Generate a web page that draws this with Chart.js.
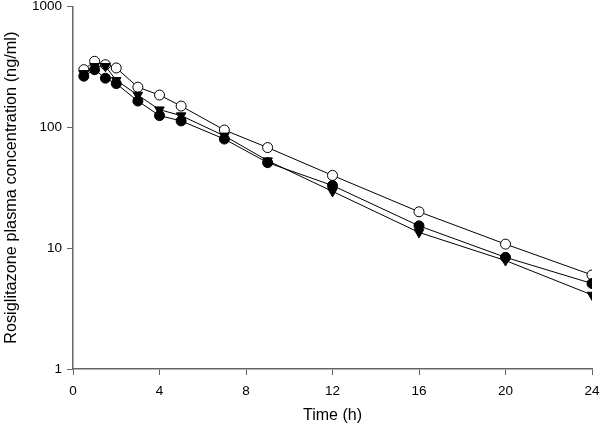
<!DOCTYPE html>
<html><head><meta charset="utf-8">
<script src="https://cdn.jsdelivr.net/npm/chart.js@4/dist/chart.umd.min.js"></script>
<style>html,body{margin:0;padding:0;background:#fff}#wrap{width:600px;height:430px}</style>
</head><body><div id="wrap"><canvas id="c" width="600" height="430"></canvas></div>
<script>
const times = [0.5, 1, 1.5, 2, 3, 4, 5, 7, 9, 12, 16, 20, 24];
const openCircle = [300, 352, 330, 310, 215, 185, 150, 95, 68, 40, 20, 10.8, 6.0];
const filledCircle = [265, 300, 255, 230, 165, 125, 113, 80, 51, 33, 15.3, 8.4, 5.1];
const triangleDown = [280, 320, 320, 245, 185, 140, 125, 85, 53, 29.5, 13.5, 7.9, 4.1];
const xTicks = [0, 4, 8, 12, 16, 20, 24];
const yTicks = [1, 10, 100, 1000];

const toXY = arr => arr.map((v, i) => ({x: times[i], y: v}));
const axisColor = '#666';
const fam = 'Liberation Sans, Arial, sans-serif';
const font = {family: fam, size: 13.5};

new Chart(document.getElementById('c'), {
  type: 'line',
  data: {
    datasets: [
      {data: toXY(filledCircle), borderColor: '#000', borderWidth: 1, pointStyle: 'circle', pointRadius: 5, pointBackgroundColor: '#000', pointBorderColor: '#000', pointBorderWidth: 1, tension: 0},
      {data: toXY(triangleDown), borderColor: '#000', borderWidth: 1, pointStyle: 'triangle', pointRotation: 180, pointRadius: 5.5, pointBackgroundColor: '#000', pointBorderColor: '#000', pointBorderWidth: 1, tension: 0},
      {data: toXY(openCircle), borderColor: '#000', borderWidth: 1, pointStyle: 'circle', pointRadius: 5, pointBackgroundColor: '#fff', pointBorderColor: '#000', pointBorderWidth: 1, tension: 0}
    ]
  },
  options: {
    responsive: false,
    animation: false,
    layout: {padding: {left: 0, right: 8, top: 5, bottom: 0}},
    plugins: {legend: {display: false}, tooltip: {enabled: false}},
    scales: {
      x: {
        type: 'linear', min: 0, max: 24,
        afterBuildTicks: s => { s.ticks = xTicks.map(v => ({value: v})); },
        afterFit: s => { s.height = 61; s.paddingLeft = 0; s.paddingRight = 0; },
        grid: {drawOnChartArea: false, drawTicks: true, tickLength: 6, color: axisColor},
        border: {color: axisColor, width: 1.5},
        ticks: {color: '#000', font: font, padding: 8, maxRotation: 0},
        title: {display: true, text: 'Time (h)', color: '#000', font: {family: fam, size: 16}, padding: {top: 6, bottom: 5}}
      },
      y: {
        type: 'logarithmic', min: 1, max: 1000,
        afterBuildTicks: s => { s.ticks = yTicks.map(v => ({value: v})); },
        afterFit: s => { s.width = 73; s.paddingTop = 0; s.paddingBottom = 0; },
        grid: {drawOnChartArea: false, drawTicks: true, tickLength: 6, color: axisColor},
        border: {color: axisColor, width: 1.5},
        ticks: {color: '#000', font: font, padding: 5, callback: v => String(v)},
        title: {display: true, text: 'Rosiglitazone plasma concentration (ng/ml)', color: '#000', font: {family: fam, size: 16.3}, padding: {top: 2, bottom: 2}}
      }
    }
  }
});
</script></body></html>
